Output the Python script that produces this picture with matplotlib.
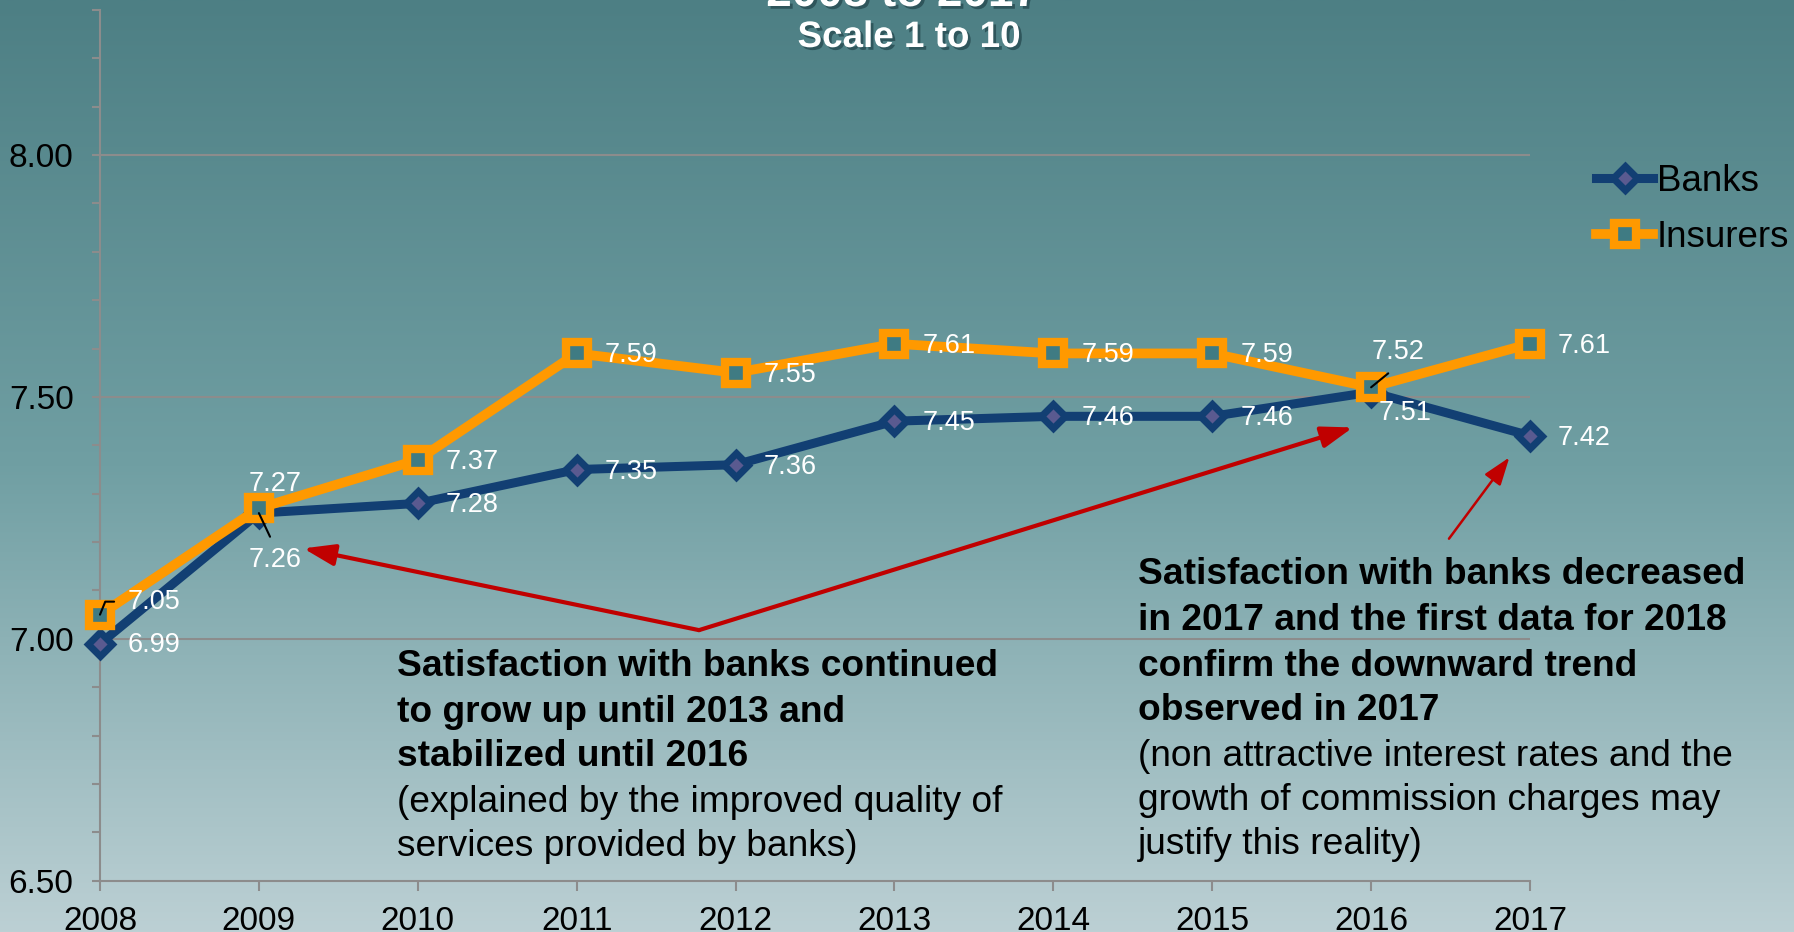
import numpy as np
import matplotlib
matplotlib.use("Agg")
import matplotlib.pyplot as plt
import matplotlib.patheffects as pe
from matplotlib.lines import Line2D
from matplotlib.ticker import MultipleLocator

plt.rcParams['font.family'] = ['Liberation Sans', 'DejaVu Sans']

years = [2008, 2009, 2010, 2011, 2012, 2013, 2014, 2015, 2016, 2017]
banks = [6.99, 7.26, 7.28, 7.35, 7.36, 7.45, 7.46, 7.46, 7.51, 7.42]
insurers = [7.05, 7.27, 7.37, 7.59, 7.55, 7.61, 7.59, 7.59, 7.52, 7.61]
series_names = ["Banks", "Insurers"]
title_lines = ["2008 to 2017", "Scale 1 to 10"]

left_bold = ["Satisfaction with banks continued", "to grow up until 2013 and",
             "stabilized until 2016"]
left_norm = ["(explained by the improved quality of", "services provided by banks)"]
right_bold = ["Satisfaction with banks decreased", "in 2017 and the first data for 2018",
              "confirm the downward trend", "observed in 2017"]
right_norm = ["(non attractive interest rates and the", "growth of commission charges may",
              "justify this reality)"]

W, H = 1794, 932
fig = plt.figure(figsize=(W / 100, H / 100), dpi=100)

# background gradient
bg = fig.add_axes([0, 0, 1, 1], zorder=-10)
top = np.array([77, 127, 132]) / 255
mid = np.array([112, 159, 163]) / 255
bot = np.array([188, 208, 212]) / 255
t = np.linspace(0, 1, 400)[:, None]
grad = np.where(t < 0.5, top + (mid - top) * (t / 0.5), mid + (bot - mid) * ((t - 0.5) / 0.5))
bg.imshow(grad[:, None, :], aspect='auto', extent=[0, 1, 0, 1])
bg.axis('off')

ax = fig.add_axes([100 / W, 1 - 880.7 / H, (1530 - 100) / W, (880.7 - 10) / H])
ax.set_facecolor('none')
ax.set_xlim(2008, 2017)
ax.set_ylim(6.5, 8.3)

gray = '#8c8c8c'
for s in ['top', 'right']:
    ax.spines[s].set_visible(False)
for s in ['left', 'bottom']:
    ax.spines[s].set_color(gray)
    ax.spines[s].set_linewidth(1.5)

ax.set_xticks(years)
ax.set_xticklabels([str(y) for y in years])
ax.set_yticks([6.5, 7.0, 7.5, 8.0])
ax.set_yticklabels(["6.50", "7.00", "7.50", "8.00"])
ax.yaxis.set_minor_locator(MultipleLocator(0.1))
ax.tick_params(axis='x', length=7, width=1.5, color=gray, labelsize=24, pad=11, direction='out')
ax.tick_params(axis='y', which='both', length=6, width=1.5, color=gray, labelsize=24, pad=13)
for yv in [7.0, 7.5, 8.0]:
    ax.axhline(yv, color=gray, lw=1.5, zorder=1)

banks_color = '#123f73'
ins_color = '#ff9900'
bank_style = dict(color=banks_color, lw=6.5, marker='D', ms=12, mew=5,
                  mec=banks_color, mfc='#5a5a90')
ins_style = dict(color=ins_color, lw=7, marker='s', ms=16, mew=6,
                 mec=ins_color, mfc='#3f7b83')
ax.plot(years, banks, zorder=3, clip_on=False, label=series_names[0], **bank_style)
ax.plot(years, insurers, zorder=4, clip_on=False, label=series_names[1], **ins_style)

# data labels
default = (28, -2)
bank_off = {2009: (16, -47), 2016: (34, -21), 2008: (28, -1)}
ins_off = {2008: (28, 13), 2009: (16, 24), 2016: (27, 35)}
lab_fs = 19.5
for y, v in zip(years, banks):
    off = bank_off.get(y, default)
    ha = 'center' if y in (2009, 2016) else 'left'
    kw = {}
    if y == 2009:
        kw['arrowprops'] = dict(arrowstyle='-', color='black', lw=1.5, shrinkA=6, shrinkB=0,
                                relpos=(0.5, 1.0))
    ax.annotate(f"{v:.2f}", (y, v), xytext=off, textcoords='offset pixels', ha=ha,
                va='center', color='white', fontsize=lab_fs, zorder=6, annotation_clip=False, **kw)
for y, v in zip(years, insurers):
    off = ins_off.get(y, default)
    ha = 'center' if y in (2009, 2016) else 'left'
    kw = {}
    if y == 2016:
        kw['arrowprops'] = dict(arrowstyle='-', color='black', lw=1.5, shrinkA=6, shrinkB=0,
                                relpos=(0.5, 0.0))
    if y == 2008:
        kw['arrowprops'] = dict(arrowstyle='-', color='black', lw=1.5, shrinkA=8, shrinkB=0,
                                relpos=(0.0, 0.5),
                                connectionstyle='angle,angleA=0,angleB=68,rad=0')
    ax.annotate(f"{v:.2f}", (y, v), xytext=off, textcoords='offset pixels', ha=ha,
                va='center', color='white', fontsize=lab_fs, zorder=6, annotation_clip=False, **kw)

# red arrows
red = '#c00000'
big = dict(arrowstyle='-|>,head_length=1.9,head_width=0.65', color=red, lw=3,
           mutation_scale=10, shrinkA=0, shrinkB=0)
ax.annotate('', xy=(2009.28, 7.187), xytext=(2011.77, 7.018), arrowprops=big, zorder=5)
ax.annotate('', xy=(2015.885, 7.437), xytext=(2011.77, 7.018), arrowprops=big, zorder=5)
small = dict(arrowstyle='-|>,head_length=1.7,head_width=0.6', color=red, lw=1.8,
             mutation_scale=10, shrinkA=0, shrinkB=0)
ax.annotate('', xy=(2016.87, 7.375), xytext=(2016.49, 7.207), arrowprops=small, zorder=5)

# annotation texts
def block(x, ys, bold, norm):
    lines = [(s, 'bold') for s in bold] + [(s, 'normal') for s in norm]
    for yy, (s, w) in zip(ys, lines):
        fig.text(x / W, 1 - yy / H, s, fontsize=26.7, fontweight=w, color='black',
                 ha='left', va='center')

block(397, [667, 712, 757, 802, 846], left_bold, left_norm)
block(1138, [575, 621, 667, 711, 756, 800, 845], right_bold, right_norm)

# titles
shadow = [pe.withSimplePatchShadow(offset=(2, -2), shadow_rgbFace='#1a3a40', alpha=0.6)]
fig.text(903 / W, 1 - 6 / H, title_lines[0], fontsize=33, fontweight='bold', color='white',
         ha='center', va='baseline', path_effects=shadow)
fig.text(909 / W, 1 - 47 / H, title_lines[1], fontsize=26.5, fontweight='bold', color='white',
         ha='center', va='baseline', path_effects=shadow)

# legend
handles = [Line2D([], [], **bank_style), Line2D([], [], **ins_style)]
fig.legend(handles, series_names, loc='center left', bbox_to_anchor=(1596 / W, 1 - 209.5 / H),
           frameon=False, fontsize=26.5, handlelength=1.55, handletextpad=0.1,
           labelspacing=0.58, borderpad=0, borderaxespad=0)

fig.savefig('out.png', dpi=100)
